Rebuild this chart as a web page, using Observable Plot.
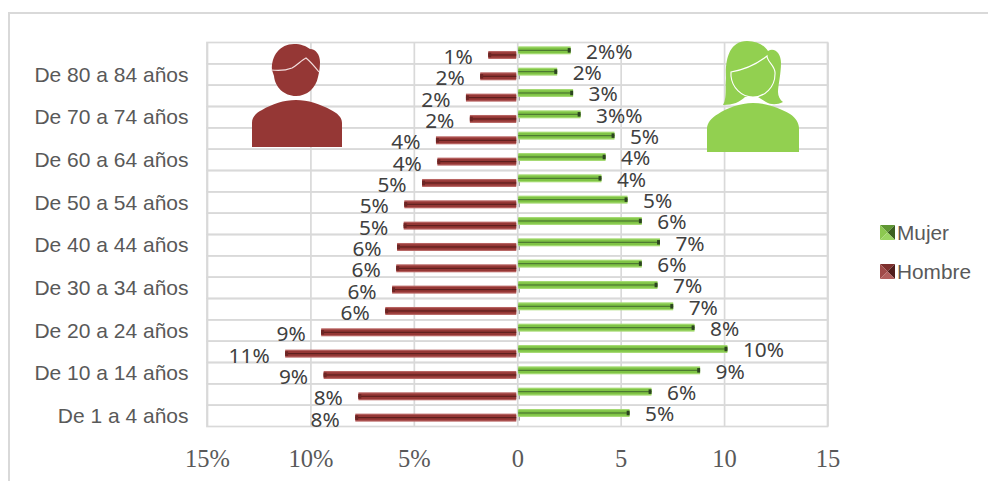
<!DOCTYPE html>
<html lang="es">
<head>
<meta charset="utf-8">
<script src="https://cdn.jsdelivr.net/npm/d3@7"></script>
<script src="https://cdn.jsdelivr.net/npm/@observablehq/plot@0.6"></script>
<style>
  html, body { margin: 0; padding: 0; background: #fff; }
  #wrap { position: relative; width: 988px; height: 481px; overflow: hidden; }
  #frame { position: absolute; left: 8px; top: 12px; width: 990px; height: 490px; border: 2px solid #d9d9d9; box-sizing: border-box; }
  #chart { position: absolute; left: 0; top: 0; }
  #chart svg { display: block; background: transparent; }
  #icons { position: absolute; left: 0; top: 0; pointer-events: none; }
  .leg { position: absolute; left: 880px; height: 15px; display: flex; align-items: center; font: 20.8px "Liberation Sans", Arial, sans-serif; color: #595959; white-space: nowrap; }
  .leg svg { margin-right: 2px; flex: none; }
</style>
</head>
<body>
<div id="wrap">
  <div id="frame"></div>
  <div id="chart"></div>
  <svg id="icons" width="988" height="481" viewBox="0 0 988 481" aria-hidden="true">
    <g fill="#953735">
      <path d="M252 147 V123 C252 117 256 113 262 110 C272 104 284 100 296 100 C308 100 320 104 331 110 C337 113 342 117 342 123 V147 Z"/>
      <path d="M272 70 C271 56 280 44 294 44 C301 44 306 46 310 49 C316 49 320 55 320 62 C320 68 319 73 318 77 C316 88 307 96 296 96 C284 96 275 87 274 76 Z"/>
    </g>
    <path d="M271 70 C279 71 287 70 292 68 C297 65 302 60 306 58 C311 62 315 67 319 72" fill="none" stroke="#f3dede" stroke-width="1.2"/>
    <g fill="#92d050">
      <path d="M707 152 V129 C707 123 711 118 718 114 C727 108 740 103 753 103 C766 103 780 108 790 114 C796 118 799 123 799 129 V152 Z"/>
      <path d="M723 105 C727 98 725 88 726 78 C725 60 729 41 747 41 C757 41 764 45 768 51 C775 47 781 54 781 63 C781 74 778 86 778 92 C778 96 780 100 783 102 C777 105 771 105 766 102 L758 97 H745 C740 102 733 105 723 105 Z"/>
    </g>
    <path d="M731 72 C743 70 757 64 767 56 C767 62 776 66 775 74 C775 87 765 97 753 97 C741 97 732 87 731 76 Z" fill="none" stroke="#fff" stroke-width="1.1"/>
  </svg>
  <div class="leg" style="top:225px">
    <svg width="15" height="15" viewBox="0 0 15 15"><polygon points="0,0 15,0 7.5,7.5" fill="#5f9633"/><polygon points="0,0 0,15 7.5,7.5" fill="#8cc850"/><polygon points="15,0 15,15 7.5,7.5" fill="#3b5f20"/><polygon points="0,15 15,15 7.5,7.5" fill="#9bd563"/></svg>Mujer
  </div>
  <div class="leg" style="top:264px">
    <svg width="15" height="15" viewBox="0 0 15 15"><polygon points="0,0 15,0 7.5,7.5" fill="#7d2f2d"/><polygon points="0,0 0,15 7.5,7.5" fill="#a04a48"/><polygon points="15,0 15,15 7.5,7.5" fill="#4f1c1b"/><polygon points="0,15 15,15 7.5,7.5" fill="#b25f5d"/></svg>Hombre
  </div>
</div>
<script>
const categories = ["De 85 y más","De 80 a 84 años","De 75 a 79 años","De 70 a 74 años","De 65 a 69 años","De 60 a 64 años","De 55 a 59 años","De 50 a 54 años","De 45 a 49 años","De 40 a 44 años","De 35 a 39 años","De 30 a 34 años","De 25 a 29 años","De 20 a 24 años","De 15 a 19 años","De 10 a 14 años","De 5 a 9 años","De 1 a 4 años"];
const shownCategories = ["De 80 a 84 años","De 70 a 74 años","De 60 a 64 años","De 50 a 54 años","De 40 a 44 años","De 30 a 34 años","De 20 a 24 años","De 10 a 14 años","De 1 a 4 años"];
const hombre = [1.4,1.79,2.48,2.29,3.93,3.86,4.6,5.46,5.49,5.81,5.85,6.05,6.38,9.48,11.22,9.36,7.68,7.83];
const mujer = [2.58,1.93,2.7,3.06,4.7,4.27,4.07,5.33,6.02,6.9,6.02,6.78,7.54,8.57,10.16,8.84,6.49,5.43];
const hombreLabels = ["1%","2%","2%","2%","4%","4%","5%","5%","5%","6%","6%","6%","6%","9%","11%","9%","8%","8%"];
const mujerLabels = ["2%%","2%","3%","3%%","5%","4%","4%","5%","6%","7%","6%","7%","7%","8%","10%","9%","6%","5%"];
const xTicks = [-15,-10,-5,0,5,10,15];
const xTickLabels = ["15%","10%","5%","0","5","10","15"];

const rowsH = categories.map((c,i)=>({c, v:-hombre[i], l:hombreLabels[i]}));
const rowsM = categories.map((c,i)=>({c, v:mujer[i], l:mujerLabels[i]}));
const BAND = 21.35;

// A bar slice centred `off` px from the band centre, `h` px high
function slice(off, h){
  const top = BAND/2 + off - h/2;
  return {insetTop: top, insetBottom: BAND - top - h};
}
function bar3d(rows, off, c, side){
  const x1 = d=>0, x2 = d=>d.v;
  const pad = side>0 ? {insetLeft:1} : {insetRight:1};
  const tipW = 0.14;
  return [
    Plot.barX(rows,{x1,x2,y:"c",fill:c.edge,...pad,...slice(off,8)}),
    Plot.barX(rows,{x1,x2,y:"c",fill:c.main,...pad,...slice(off,5.5)}),
    Plot.barX(rows,{x1,x2,y:"c",fill:c.dark,...pad,...slice(off,1.2)}),
    Plot.barX(rows,{x1:d=>d.v-side*tipW,x2,y:"c",fill:c.tip,...slice(off,4.5)})
  ];
}

const plot = Plot.plot({
  width: 988, height: 481,
  marginLeft: 207, marginRight: 160.5, marginTop: 42.5, marginBottom: 54.5,
  style: {background:"transparent", overflow:"visible"},
  x: {domain:[-15,15], label:null},
  y: {domain:categories, padding:0, round:false, label:null},
  marks: [
    Plot.barX(categories,{x1:()=>-15,x2:()=>15,y:d=>d,fill:"none",stroke:"#d9d9d9",strokeWidth:1.7}),
    Plot.ruleX(xTicks,{stroke:"#d9d9d9",strokeWidth:1.7}),
    Plot.barX(rowsH,{x1:()=>0.07,x2:()=>0.13,y:"c",fill:"#a0a0a0",...slice(1.8,6)}),
    ...bar3d(rowsH, 1.8, {edge:"#b76361",main:"#953735",dark:"#5c1f1e",tip:"#6d2524"}, -1),
    ...bar3d(rowsM, -2.85, {edge:"#a5da72",main:"#7fc445",dark:"#4a7530",tip:"#2c4420"}, 1),
    Plot.text(rowsH,{x:"v",y:"c",text:"l",dx:-16,dy:3.8,textAnchor:"end",fontSize:20.8,fontFamily:"'Noto Sans'",fill:"#404040"}),
    Plot.text(rowsM,{x:"v",y:"c",text:"l",dx:15,dy:-1.5,textAnchor:"start",fontSize:20.8,fontFamily:"'Noto Sans'",fill:"#404040"}),
    Plot.axisY({ticks:shownCategories,tickSize:0,tickPadding:19,fontSize:21,fontFamily:"'Liberation Sans'",color:"#595959",label:null}),
    Plot.axisX({ticks:xTicks,tickFormat:d=>xTickLabels[xTicks.indexOf(d)],tickSize:0,tickPadding:23,fontSize:24.5,fontFamily:"'Liberation Serif'",color:"#595959",label:null})
  ]
});
document.getElementById("chart").appendChild(plot);
</script>
</body>
</html>
